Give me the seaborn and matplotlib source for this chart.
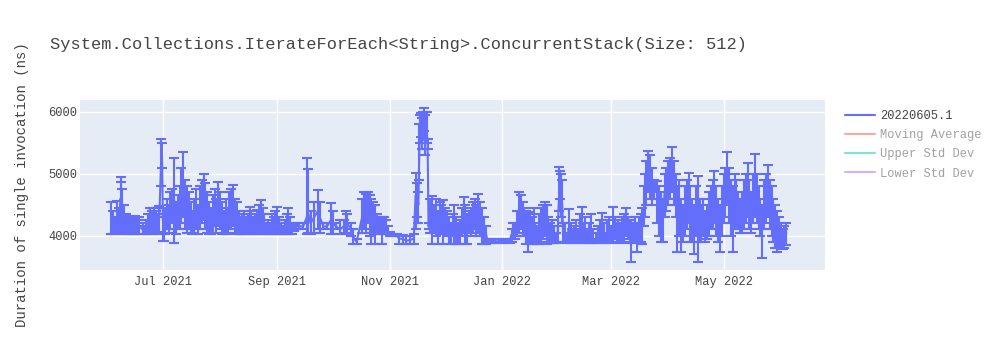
import numpy as np
import pandas as pd
import matplotlib
matplotlib.use("Agg")
import matplotlib.pyplot as plt
import matplotlib.dates as mdates
from matplotlib.lines import Line2D
import seaborn as sns

TITLE = "System.Collections.IterateForEach<String>.ConcurrentStack(Size: 512)"
Y_LABEL = "Duration of single invocation (ns)"
SERIES_NAMES = ["20220605.1", "Moving Average", "Upper Std Dev", "Lower Std Dev"]
START = "2021-06-03"

# day offsets from START
day = [
    0, 1, 2, 3, 4, 5, 5.5, 6, 7, 8, 9, 10, 11, 12, 13, 14, 15, 17, 18, 19, 20, 21, 22, 23, 24, 25, 26,
    27, 27.5, 28, 28.5, 29, 30, 31, 32, 33, 34, 35, 36, 37, 38, 39, 40, 41, 42, 43, 44, 45, 46, 47, 48, 49, 50, 51, 52, 53, 54, 55, 56, 57, 58, 59, 60,
    61, 62, 63, 64, 65, 66, 67, 68, 69, 70, 71, 72, 73, 74, 75, 76, 77, 78, 79, 80, 81, 82, 83, 84, 85, 86, 87, 88, 89, 90, 91, 92, 93, 94, 95, 96, 97, 98,
    99, 100, 102, 104, 106, 106.5, 108, 110, 112, 113, 115, 117, 119, 120, 122, 124, 126, 127, 128, 130, 131, 133, 136, 137, 138, 139, 140, 141, 142, 143, 144, 145, 146, 147, 148, 149, 150, 151, 153, 155, 156, 158, 160, 162, 164,
    165, 166, 166.5, 167, 167.5, 168, 168.5, 169, 169.5, 170, 171, 171.5, 172, 173, 174, 175, 176, 177, 178, 179, 180, 181, 182, 183, 184, 185, 186, 187, 188, 189, 190, 191, 192, 193, 194, 195, 196, 197, 198, 199, 200, 201, 202, 203,
    204, 206, 208, 210, 212, 214, 216, 217, 218, 219, 220, 221, 222, 223, 224, 225, 226, 227, 228, 229, 230, 231, 232, 233, 234, 235, 236, 237, 238, 239, 240, 241, 242,
    243, 243.5, 244, 244.5, 245, 246, 247, 248, 249, 250, 251, 252, 253, 254, 255, 256, 257, 258, 259, 260, 261, 262, 263, 264, 265, 266, 267, 268, 269, 270, 271, 272, 273, 274, 275, 276, 277, 278, 279, 280, 281, 282, 283, 284, 285, 286, 287, 288,
    289, 289.5, 290, 291, 292, 293, 294, 295, 296, 297, 298, 299, 300, 301, 302, 303, 304, 305, 306, 307, 308, 309, 310, 311, 312, 313, 314, 315, 316, 317, 318, 319, 320, 321, 322, 323, 324, 325, 326, 327,
    328, 329, 330, 331, 332, 333, 334, 335, 336, 337, 338, 339, 340, 341, 342, 343, 344, 345, 346, 347, 348, 349, 350, 351, 352, 353, 354, 355, 356, 357, 358, 359, 360, 361, 362, 363, 364, 365, 366,
]

value = [
    4150, 4250, 4100, 4300, 4200, 4600, 4500, 4350, 4200, 4150, 4200, 4100, 4150, 4120, 4180, 4100, 4150, 4100, 4080, 4150, 4200, 4250, 4200, 4300, 4250, 4200, 4300,
    5200, 5300, 4200, 4100, 4250, 4350, 4300, 4400, 4500, 4600, 4300, 4400, 4500, 4700, 4800, 4600, 4500, 4400, 4300, 4200, 4350, 4450, 4300, 4500, 4600, 4650, 4500, 4400, 4300, 4250, 4400, 4500, 4350, 4500, 4450, 4300,
    4200, 4350, 4250, 4400, 4450, 4500, 4350, 4300, 4200, 4150, 4200, 4250, 4150, 4200, 4300, 4250, 4150, 4200, 4250, 4300, 4350, 4250, 4200, 4100, 4150, 4100, 4200, 4150, 4200, 4250, 4150, 4100, 4080, 4150, 4200, 4250, 4150, 4100,
    4130, 4150, 4150, 4150, 4300, 4400, 4200, 4300, 4400, 4300, 4150, 4150, 4250, 4200, 4150, 4100, 4150, 4250, 4200, 4100, 3980, 3900, 4300, 4500, 4400, 4600, 4300, 4200, 4350, 4250, 4200, 4150, 4200, 4150, 4100, 4100, 4050, 4030, 4000, 4000, 3950, 3950, 3920, 3930, 3950,
    4650, 4600, 4500, 5400, 5700, 5800, 5650, 5750, 5850, 5600, 5700, 5500, 4150, 4300, 4200, 4350, 4250, 4100, 4200, 4300, 4150, 4250, 4200, 4100, 4050, 4150, 4200, 4100, 4050, 4100, 4200, 4300, 4200, 4150, 4250, 4200, 4300, 4350, 4250, 4400, 4300, 4200, 4150, 4050,
    3920, 3920, 3910, 3910, 3920, 3910, 3920, 4020, 4050, 4100, 4200, 4350, 4300, 4250, 4200, 4150, 4100, 4200, 4150, 4250, 4100, 4050, 4150, 4200, 4250, 4300, 4200, 4150, 4050, 4100, 4000, 3950, 4050,
    4800, 4900, 4700, 4500, 4000, 4050, 3950, 4100, 4050, 3950, 4000, 4050, 4000, 4100, 4150, 4000, 4050, 3950, 4000, 4050, 3950, 3900, 3950, 4000, 4050, 4100, 4000, 3950, 4000, 4050, 4000, 4150, 4100, 4000, 4050, 4000, 4100, 4150, 4200, 4100, 4050, 3950, 4050, 4100, 3950, 4100, 4050, 4200,
    4500, 4700, 4900, 5000, 4900, 4800, 4750, 4800, 4700, 4500, 4400, 4300, 4700, 4800, 4900, 5000, 5100, 4900, 4700, 4300, 4500, 4300, 4200, 4400, 4500, 4600, 4400, 4300, 4200, 4400, 4500, 4300, 4200, 4300, 4100, 4200, 4300, 4400, 4500, 4600,
    4400, 4300, 4200, 4400, 4600, 4700, 4900, 4700, 4500, 4300, 4600, 4500, 4400, 4300, 4400, 4500, 4600, 4700, 4500, 4400, 4600, 4800, 4600, 4400, 4300, 4200, 4500, 4600, 4700, 4500, 4400, 4300, 4200, 4100, 4000, 3950, 3900, 4000, 4050,
]

lower = [
    4030, 4030, 4030, 4040, 4030, 4050, 4100, 4050, 4030, 4030, 4030, 4030, 4030, 4030, 4030, 4030, 4030, 4030, 4020, 4030, 4030, 4050, 4030, 4050, 4030, 4030, 4060,
    4800, 5100, 3910, 3920, 4030, 4100, 4050, 4100, 4200, 3880, 4030, 4100, 4100, 4200, 4300, 4100, 4050, 4100, 4050, 4030, 4050, 4100, 4030, 4100, 4200, 4250, 4100, 4050, 4030, 4030, 4050, 4150, 4050, 4150, 4100, 4030,
    4030, 4050, 4030, 4100, 4100, 4150, 4050, 4030, 4030, 4030, 4030, 4030, 4030, 4030, 4050, 4030, 4030, 4030, 4030, 4050, 4050, 4030, 4030, 4020, 4030, 4030, 4030, 4030, 4030, 4030, 4030, 4030, 4020, 4030, 4030, 4030, 4030, 4030,
    4080, 4100, 4100, 4100, 4030, 4050, 4030, 4050, 4100, 4050, 4100, 4100, 4030, 4030, 4100, 4030, 4050, 4030, 4050, 4000, 3870, 3870, 4050, 4100, 4050, 4200, 4000, 3870, 4050, 3870, 4030, 4030, 4030, 3870, 4030, 4030, 4030, 3990, 3990, 3990, 3870, 3870, 3870, 3870, 3870,
    4100, 4300, 4200, 4900, 5500, 5600, 5400, 5550, 5700, 5300, 5500, 5400, 4100, 4050, 3870, 4050, 4000, 3870, 4030, 4050, 3870, 4030, 4000, 3870, 3870, 4000, 3870, 3870, 3870, 3870, 4000, 4050, 3870, 3870, 4050, 4000, 4050, 4100, 4000, 4050, 4000, 3870, 3870, 3870,
    3880, 3880, 3880, 3880, 3880, 3880, 3880, 3900, 3950, 3950, 4000, 4050, 4100, 4000, 4000, 3870, 3740, 3870, 3870, 3900, 3870, 3870, 3870, 3900, 3950, 4000, 3870, 3880, 3880, 3900, 3880, 3880, 3880,
    4400, 4600, 4300, 4200, 3900, 3900, 3880, 3900, 3900, 3880, 3880, 3900, 3880, 3900, 3900, 3880, 3880, 3880, 3880, 3900, 3880, 3880, 3880, 3880, 3900, 3900, 3880, 3880, 3900, 3880, 3880, 3900, 3950, 3900, 3900, 3880, 3900, 3900, 4000, 3950, 3880, 3580, 3880, 3900, 3740, 3900, 3900, 3870,
    4150, 4300, 4500, 4700, 4600, 4500, 4600, 4700, 4200, 4000, 3900, 3900, 4300, 4400, 4500, 4600, 4700, 4500, 4300, 3740, 4000, 3740, 3900, 4000, 4100, 4200, 3900, 3900, 3700, 4000, 3580, 3900, 3900, 4000, 3900, 3950, 4000, 4100, 4100, 4200,
    4000, 3900, 3740, 4000, 4200, 4300, 4500, 4200, 4000, 3740, 4100, 4100, 4100, 4050, 4050, 4100, 4200, 4300, 4100, 4050, 4200, 4300, 4200, 4100, 4000, 3640, 4100, 4200, 4300, 4100, 4000, 3900, 3800, 3740, 3800, 3800, 3780, 3800, 3850,
]

upper = [
    4550, 4400, 4300, 4560, 4450, 4950, 4860, 4750, 4500, 4350, 4320, 4250, 4300, 4280, 4320, 4260, 4300, 4200, 4150, 4250, 4350, 4450, 4400, 4450, 4400, 4350, 4480,
    5560, 5500, 4450, 4300, 4450, 4600, 4500, 4700, 4750, 5250, 4550, 4650, 4800, 5100, 5350, 4900, 4800, 4700, 4550, 4400, 4600, 4750, 4500, 4800, 4900, 5000, 4850, 4700, 4550, 4450, 4650, 4750, 4600, 4870, 4700, 4550,
    4400, 4600, 4450, 4700, 4750, 4820, 4600, 4550, 4400, 4300, 4350, 4400, 4300, 4350, 4470, 4400, 4300, 4350, 4420, 4500, 4580, 4450, 4350, 4200, 4250, 4200, 4350, 4300, 4400, 4470, 4300, 4200, 4150, 4250, 4350, 4440, 4300, 4200,
    4180, 4200, 4200, 4200, 5250, 5080, 4400, 4550, 4740, 4550, 4200, 4200, 4530, 4400, 4200, 4250, 4250, 4400, 4350, 4200, 4100, 3950, 4600, 4700, 4680, 4700, 4650, 4600, 4550, 4500, 4350, 4300, 4300, 4280, 4300, 4250, 4150, 4060, 4030, 4030, 4000, 4010, 4000, 4000, 4020,
    5020, 4850, 4700, 5800, 5950, 5980, 5900, 6000, 6060, 5950, 6000, 5560, 4200, 4600, 4640, 4500, 4600, 4400, 4550, 4500, 4580, 4450, 4400, 4300, 4200, 4350, 4500, 4300, 4200, 4250, 4450, 4630, 4500, 4350, 4400, 4450, 4550, 4600, 4500, 4680, 4550, 4450, 4300, 4150,
    3950, 3950, 3940, 3940, 3950, 3940, 3950, 4100, 4200, 4200, 4400, 4700, 4650, 4550, 4450, 4400, 4350, 4380, 4300, 4450, 4200, 4150, 4350, 4450, 4500, 4550, 4500, 4300, 4200, 4250, 4150, 4050, 4150,
    5110, 5050, 5000, 4900, 4200, 4200, 4050, 4430, 4200, 4100, 4150, 4250, 4100, 4350, 4460, 4200, 4300, 4100, 4200, 4350, 4100, 3950, 4050, 4150, 4250, 4370, 4200, 4050, 4250, 4300, 4150, 4460, 4300, 4200, 4250, 4200, 4300, 4350, 4450, 4300, 4250, 4250, 4200, 4300, 4200, 4300, 4350, 4450,
    4800, 5000, 5200, 5370, 5300, 5100, 4900, 4880, 4880, 4800, 4700, 4600, 5000, 5100, 5200, 5250, 5430, 5200, 5000, 4800, 4900, 4600, 4500, 4800, 4900, 5010, 4800, 4600, 4500, 4800, 4970, 4600, 4500, 4600, 4400, 4500, 4700, 4800, 4900, 5050,
    4800, 4600, 4500, 4800, 5000, 5100, 5360, 5100, 4900, 4800, 5000, 4900, 4700, 4600, 4700, 4900, 5000, 5170, 4900, 4700, 5000, 5320, 5000, 4800, 4600, 4500, 4900, 5000, 5150, 4900, 4800, 4600, 4500, 4400, 4300, 4200, 4100, 4150, 4200,
]

X_RANGE = ("2021-05-17", "2022-06-25")
Y_RANGE = (3445, 6194)
Y_TICKS = [4000, 5000, 6000]

BLUE = "#636efa"
HIDDEN_COLORS = ["#EF553B", "#00cc96", "#ab63fa"]
TEXT = "#444444"

sns.set_theme(style="darkgrid", rc={
    "axes.facecolor": "#E5ECF6",
    "grid.color": "white",
    "grid.linewidth": 1.0,
    "figure.facecolor": "white",
})
plt.rcParams["font.family"] = ["Liberation Mono", "DejaVu Sans Mono"]

df = pd.DataFrame({
    "date": pd.Timestamp(START) + pd.to_timedelta(day, unit="D"),
    "value": value,
    "lower": lower,
    "upper": upper,
})

fig = plt.figure(figsize=(10, 3.5), dpi=100)
ax = fig.add_axes([80 / 1000, 1 - 270 / 350, 745 / 1000, 170 / 350])

sns.lineplot(data=df, x="date", y="value", ax=ax, color=BLUE, linewidth=1.5,
             estimator=None, sort=False, legend=False)
ax.errorbar(df["date"], df["value"],
            yerr=[df["value"] - df["lower"], df["upper"] - df["value"]],
            fmt="none", ecolor=BLUE, elinewidth=1.5, capsize=3.4, capthick=1.5)

ax.set_xlim(pd.Timestamp(X_RANGE[0]), pd.Timestamp(X_RANGE[1]))
ax.set_ylim(*Y_RANGE)
ax.set_yticks(Y_TICKS)
ax.xaxis.set_major_locator(mdates.MonthLocator(bymonth=[1, 3, 5, 7, 9, 11]))
ax.xaxis.set_major_formatter(mdates.DateFormatter("%b %Y"))
ax.set_xlabel("")
ax.set_ylabel("")
for s in ax.spines.values():
    s.set_visible(False)
ax.tick_params(axis="both", length=0, labelsize=8.64, labelcolor=TEXT)
ax.tick_params(axis="x", pad=4)
ax.tick_params(axis="y", pad=2)

fig.text(50 / 1000, 1 - 45 / 350, TITLE, fontsize=12.24, color=TEXT, ha="left", va="center")
fig.text(22 / 1000, 1 - 185 / 350, Y_LABEL, fontsize=10.08, color=TEXT, rotation=90,
         ha="center", va="center")

handles = [Line2D([0], [0], color=BLUE, lw=1.5)] + [
    Line2D([0], [0], color=c, lw=1.5, alpha=0.5) for c in HIDDEN_COLORS
]
leg = fig.legend(handles, SERIES_NAMES, loc="upper left", bbox_to_anchor=(845 / 1000, 1 - 110 / 350),
                 frameon=False, fontsize=8.64, handlelength=2.5, handletextpad=0.45,
                 labelspacing=0.6, borderaxespad=0, borderpad=0)
for i, t in enumerate(leg.get_texts()):
    t.set_color(TEXT)
    if i > 0:
        t.set_alpha(0.5)

fig.savefig("out.png", dpi=100)
